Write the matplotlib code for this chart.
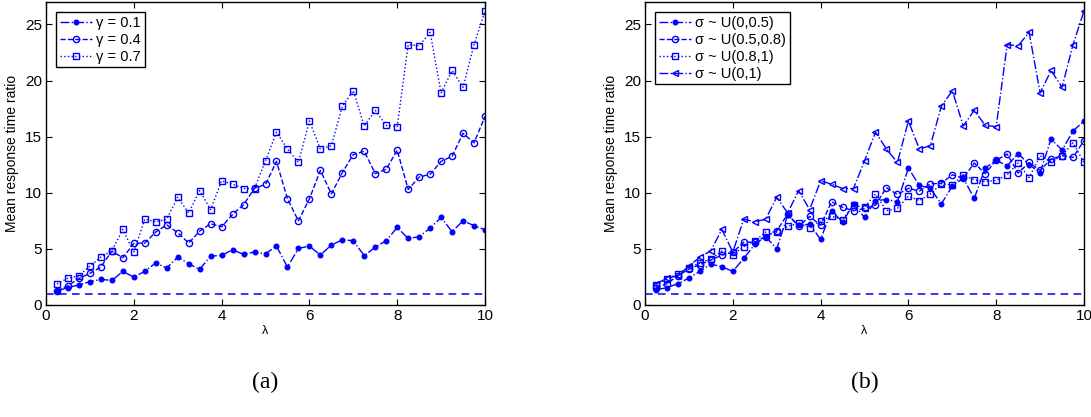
import numpy as np
import matplotlib.pyplot as plt

plt.rcParams['font.family'] = ['Liberation Sans', 'DejaVu Sans']

lam = np.arange(1, 41) * 0.25

# (a) gamma series
g01 = [1.25, 1.55, 1.8, 2.08, 2.28, 2.19, 2.99, 2.49, 3.0, 3.75,
       3.29, 4.27, 3.68, 3.17, 4.36, 4.42, 4.92, 4.51, 4.72, 4.57,
       5.25, 3.38, 5.04, 5.25, 4.45, 5.34, 5.81, 5.73, 4.39, 5.16,
       5.73, 6.91, 5.93, 6.08, 6.85, 7.8, 6.53, 7.51, 7.07, 6.71]
g04 = [1.28, 1.72, 2.37, 2.82, 3.38, 4.8, 4.21, 5.49, 5.52, 6.5,
       7.15, 6.44, 5.52, 6.58, 7.24, 6.97, 8.07, 8.93, 10.41, 10.74,
       12.8, 9.46, 7.5, 9.46, 12.0, 9.9, 11.8, 13.4, 13.7, 11.7,
       12.1, 13.8, 10.3, 11.4, 11.65, 12.8, 13.25, 15.3, 14.45, 16.8]
g07 = [1.87, 2.4, 2.6, 3.47, 4.27, 4.83, 6.73, 4.72, 7.65, 7.41,
       7.65, 9.6, 8.2, 10.2, 8.5, 11.06, 10.77, 10.38, 10.38, 12.84,
       15.4, 13.9, 12.7, 16.4, 13.9, 14.2, 17.7, 19.1, 15.95, 17.35,
       16.0, 15.9, 23.2, 23.1, 24.3, 18.9, 20.9, 19.4, 23.2, 26.2]

# (b) sigma series
s_a = [1.35, 1.55, 1.9, 2.4, 3.0, 3.65, 3.4, 3.0, 4.15, 5.4,
       6.1, 5.0, 8.0, 7.1, 7.2, 5.85, 8.4, 7.4, 9.0, 7.8,
       9.3, 9.4, 9.2, 12.2, 10.65, 10.4, 9.0, 10.6, 11.3, 9.5,
       12.2, 12.9, 12.4, 13.5, 12.5, 11.8, 14.8, 13.8, 15.5, 16.4]
s_b = [1.5, 1.9, 2.6, 3.2, 3.6, 4.0, 4.45, 4.7, 5.6, 5.6,
       6.1, 6.6, 8.1, 7.0, 7.9, 7.1, 9.2, 8.7, 8.4, 8.6,
       8.9, 10.45, 9.85, 10.4, 10.15, 10.8, 10.85, 11.6, 11.3, 12.65,
       11.7, 12.9, 13.45, 11.75, 12.7, 12.0, 13.0, 13.3, 13.15, 14.65]
s_c = [1.75, 2.3, 2.8, 3.3, 3.75, 4.1, 4.8, 4.5, 5.2, 5.7,
       6.5, 6.5, 7.0, 7.3, 6.9, 7.5, 7.9, 7.6, 8.9, 8.7,
       9.9, 8.4, 8.6, 9.7, 9.3, 9.9, 10.8, 10.7, 11.6, 11.15,
       11.0, 11.1, 11.6, 12.65, 11.35, 13.3, 12.75, 13.3, 14.45, 12.7]
s_d = g07

baseline = 1.0

fig = plt.figure(figsize=(10.91, 4.17), dpi=100)
ax1 = fig.add_axes([46/1091, 112/417, 439/1091, 303/417])
ax2 = fig.add_axes([645/1091, 112/417, 439/1091, 303/417])

c = (0, 0, 1)
ax1.plot(lam, g01, '-.', color=c, lw=1.0, marker='o', ms=3.3, label='γ = 0.1')
ax1.plot(lam, g04, '--', color=c, lw=1.0, marker='o', ms=4.5, mfc='none', mew=1.0, label='γ = 0.4')
ax1.plot(lam, g07, ':', color=c, lw=1.0, marker='s', ms=4.0, mfc='none', mew=1.0, label='γ = 0.7')

ax2.plot(lam, s_a, '-.', color=c, lw=1.0, marker='o', ms=3.3, label='σ ~ U(0,0.5)')
ax2.plot(lam, s_b, '--', color=c, lw=1.0, marker='o', ms=4.5, mfc='none', mew=1.0, label='σ ~ U(0.5,0.8)')
ax2.plot(lam, s_c, ':', color=c, lw=1.0, marker='s', ms=4.0, mfc='none', mew=1.0, label='σ ~ U(0.8,1)')
ax2.plot(lam, s_d, '-.', color=c, lw=1.0, marker='<', ms=5.0, mfc='none', mew=1.0, label='σ ~ U(0,1)')

for ax in (ax1, ax2):
    ax.axhline(baseline, color=c, lw=1.1, ls=(0, (5, 3.5)))
    ax.set_xlim(0, 10)
    ax.set_ylim(0, 27)
    ax.set_xticks([0, 2, 4, 6, 8, 10])
    ax.set_yticks([0, 5, 10, 15, 20, 25])
    ax.tick_params(direction='in', top=True, right=True, labelsize=11, length=4, pad=3)
    ax.set_xlabel('λ', fontsize=9, labelpad=1)
    ax.set_ylabel('Mean response time ratio', fontsize=10, labelpad=4)
    for s in ax.spines.values():
        s.set_linewidth(1.0)
    leg = ax.legend(loc='upper left', fontsize=10.5, fancybox=False, framealpha=1,
                    edgecolor='black', handlelength=2.2, handletextpad=0.3,
                    borderpad=0.25, labelspacing=0.2, borderaxespad=0.7)
    leg.get_frame().set_linewidth(1.0)

fig.text(265/1091, 1 - 382/417, '(a)', ha='center', va='center', fontsize=17, family='Liberation Serif')
fig.text(865/1091, 1 - 382/417, '(b)', ha='center', va='center', fontsize=17, family='Liberation Serif')

fig.savefig('out.png', dpi=100)
